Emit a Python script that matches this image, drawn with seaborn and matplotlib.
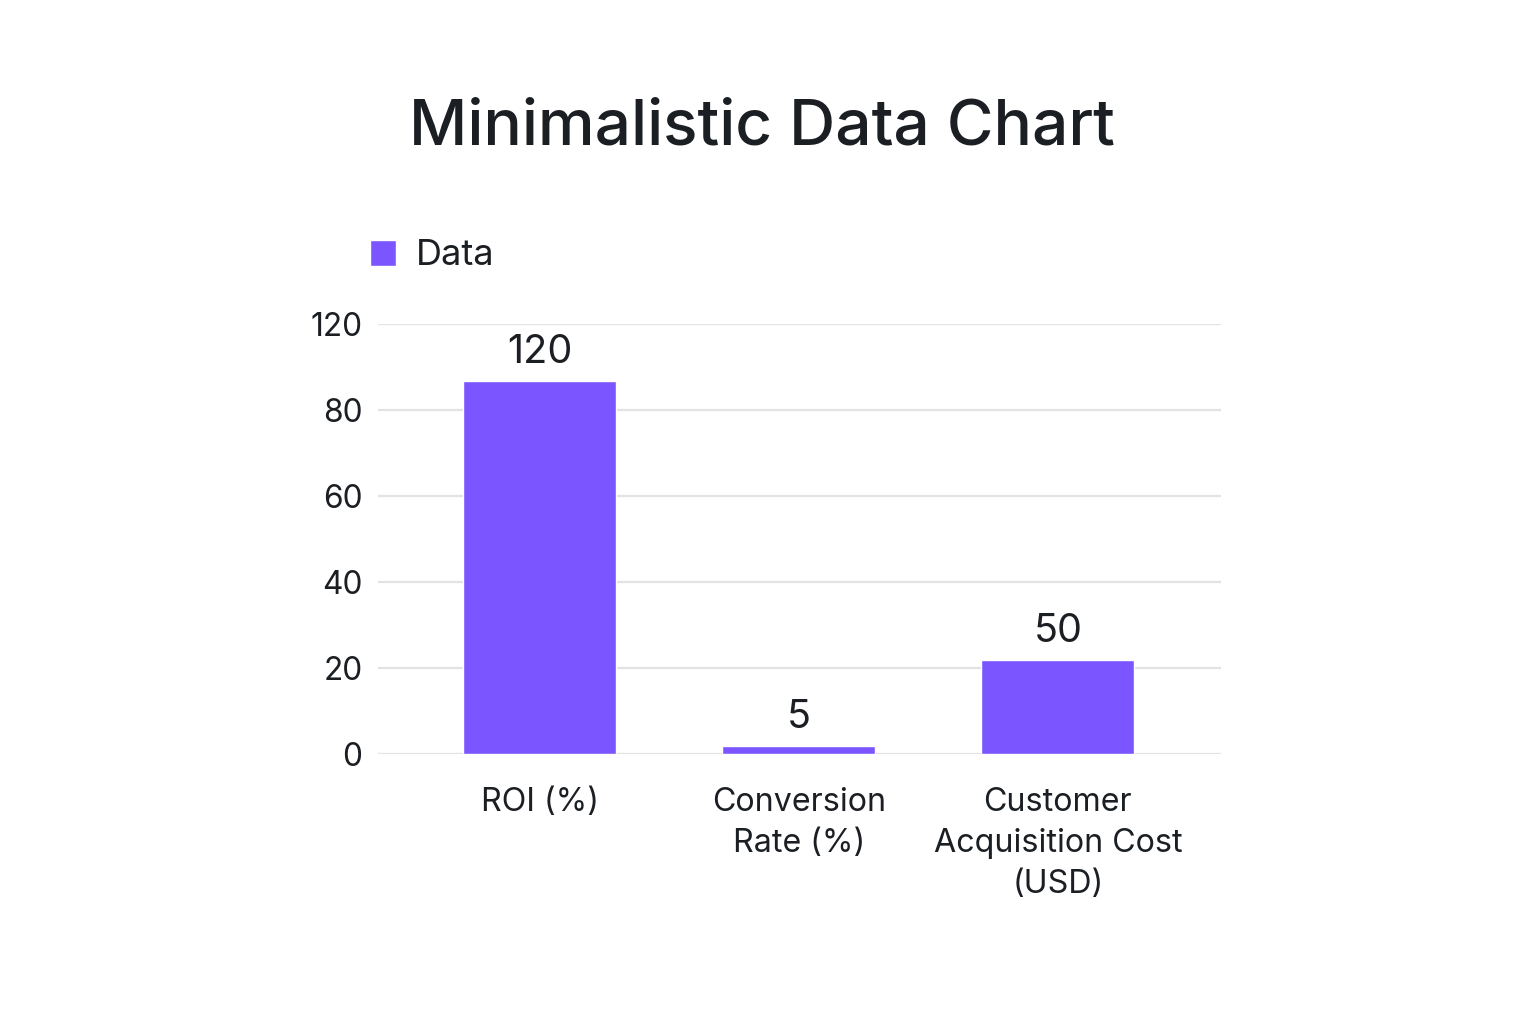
import matplotlib
matplotlib.use("Agg")
import matplotlib.pyplot as plt
import seaborn as sns
import pandas as pd

# datos
categorias = ["ROI (%)", "Conversion\nRate (%)", "Customer\nAcquisition Cost\n(USD)"]
alturas_barras = [86.7, 1.9, 21.9]     # altura dibujada en la escala del eje
etiquetas_barras = ["120", "5", "50"]  # texto que aparece encima de cada barra
ticks_y = [0, 20, 40, 60, 80, 100]
etiquetas_ticks_y = ["0", "20", "40", "60", "80", "120"]

df = pd.DataFrame({"Categoria": categorias, "Valor": alturas_barras})

sns.set_style("white")
plt.rcParams['font.family'] = ['Inter', 'DejaVu Sans']

color = "#7B55FF"
texto = "#1b1f23"

fig = plt.figure(figsize=(15.36, 10.24), dpi=100)
ax = fig.add_axes([0.246, 0.2637, 0.549, 0.42])

sns.barplot(data=df, x="Categoria", y="Valor", color=color, width=0.59,
            saturation=1, ax=ax, label="Data", zorder=3)

ax.set_xlim(-0.625, 2.63)
ax.set_ylim(0, 100)
ax.set_yticks(ticks_y)
ax.set_yticklabels(etiquetas_ticks_y)
ax.grid(axis="y", color="#e3e3e3", linewidth=1.6, zorder=0)
ax.grid(axis="x", visible=False)
for s in ax.spines.values():
    s.set_visible(False)
ax.tick_params(axis="y", length=0, pad=11, labelsize=22.8, labelcolor=texto)
ax.tick_params(axis="x", length=0, pad=24, labelsize=23.2, labelcolor=texto)
for t in ax.get_xticklabels():
    t.set_linespacing(1.4)
    t.set_verticalalignment("top")
ax.set_xlabel("")
ax.set_ylabel("")

# etiquetas encima de las barras
for i, (h, lab) in enumerate(zip(alturas_barras, etiquetas_barras)):
    ax.annotate(lab, (i, h), xytext=(0, 7), textcoords="offset points",
                ha="center", va="bottom", fontsize=28.5, color=texto)

leg = ax.legend(loc="lower left", bbox_to_anchor=(-0.048, 1.044), frameon=False,
                fontsize=26, handlelength=0.72, handleheight=0.72, handletextpad=0.55,
                labelcolor=texto)

fig.text(0.496, 0.875, "Minimalistic Data Chart", ha="center", va="center",
         fontsize=46, color=texto, fontweight="medium")

fig.savefig("out.png", dpi=100, facecolor="white")
